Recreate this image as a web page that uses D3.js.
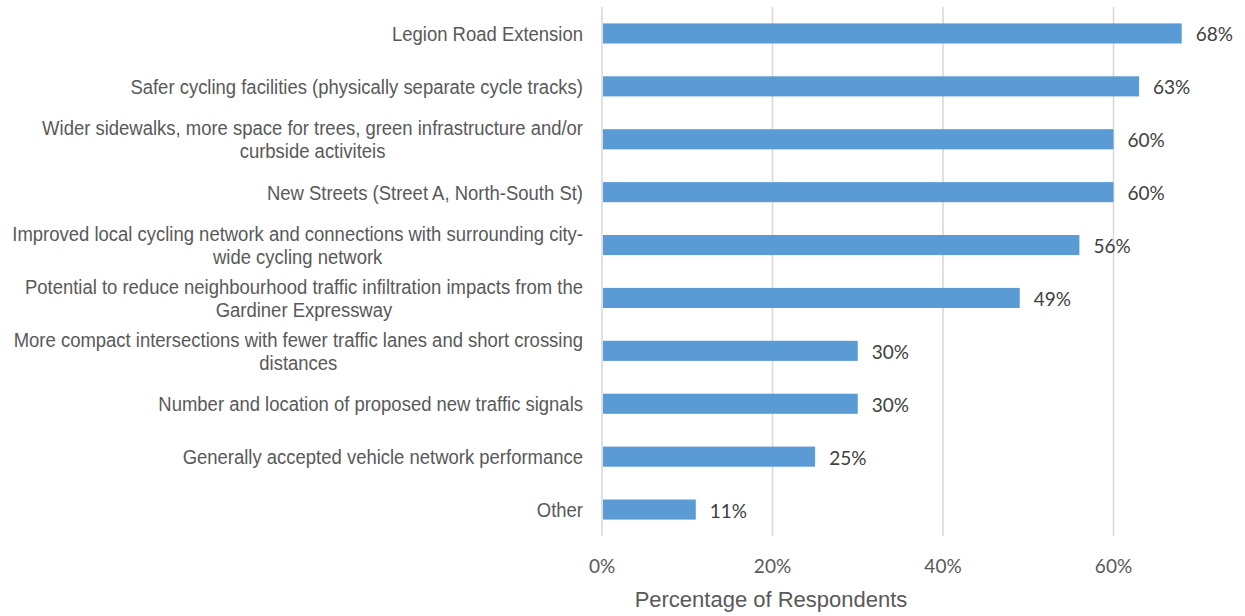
<!DOCTYPE html>
<html>
<head>
<meta charset="utf-8">
<script src="https://cdn.jsdelivr.net/npm/d3@7"></script>
<style>
  body { margin: 0; background: #fff; }
</style>
</head>
<body>
<div id="chart"></div>
<script>
// Survey answers, top to bottom ("\n" marks the line break used in the original)
const categories = [
    "Legion Road Extension",
    "Safer cycling facilities (physically separate cycle tracks)",
    "Wider sidewalks, more space for trees, green infrastructure and/or\ncurbside activiteis",
    "New Streets (Street A, North-South St)",
    "Improved local cycling network and connections with surrounding city-\nwide cycling network",
    "Potential to reduce neighbourhood traffic infiltration impacts from the\nGardiner Expressway",
    "More compact intersections with fewer traffic lanes and short crossing\ndistances",
    "Number and location of proposed new traffic signals",
    "Generally accepted vehicle network performance",
    "Other"
];
const values = [68, 63, 60, 60, 56, 49, 30, 30, 25, 11];
const ticks = [0, 20, 40, 60];
const axisTitle = "Percentage of Respondents";

const W = 1245, H = 616;
const margin = { top: 7, right: 5, bottom: 80, left: 602 };

const svg = d3.select("#chart").append("svg")
    .attr("width", W)
    .attr("height", H);

const x = d3.scaleLinear()
    .domain([0, 60])
    .range([margin.left, 1113.5]);

const y = d3.scaleBand()
    .domain(categories)
    .range([margin.top, H - margin.bottom])
    .paddingInner(0.62)
    .paddingOuter(0.31);

// gridlines
svg.append("g")
    .selectAll("line")
    .data(ticks)
    .join("line")
    .attr("x1", d => x(d))
    .attr("x2", d => x(d))
    .attr("y1", margin.top)
    .attr("y2", H - margin.bottom)
    .attr("stroke", "#d9d9d9")
    .attr("stroke-width", 1.6);

// bars
svg.append("g")
    .selectAll("rect")
    .data(values)
    .join("rect")
    .attr("x", x(0) + 1)
    .attr("y", (d, i) => y(categories[i]))
    .attr("width", d => x(d) - x(0) - 1)
    .attr("height", y.bandwidth())
    .attr("fill", "#5b9bd5");

// value labels
svg.append("g")
    .selectAll("text")
    .data(values)
    .join("text")
    .attr("x", d => x(d) + 14)
    .attr("y", (d, i) => y(categories[i]) + y.bandwidth() / 2 + 8)
    .attr("fill", "#404040")
    .style("font-family", "Lato, 'Open Sans', sans-serif")
    .style("font-size", "19px")
    .text(d => d + "%");

// category labels: narrow Arial look by squeezing Liberation Sans
const labelRight = 583;
const squeeze = 0.88;
const labelG = svg.append("g")
    .attr("transform", `translate(${labelRight},0) scale(${squeeze},1) translate(${-labelRight},0)`);

const labels = labelG.selectAll("text")
    .data(categories)
    .join("text")
    .attr("text-anchor", "middle")
    .attr("fill", "#595959")
    .style("font-family", "'Liberation Sans', Arial, sans-serif")
    .style("font-size", "21px");

labels.each(function(d) {
    const t = d3.select(this);
    const lines = d.split("\n");
    const lh = 23;
    const yc = y(d) + y.bandwidth() / 2;
    const y0 = yc - (lines.length - 1) * lh / 2 + 7.5;
    lines.forEach((ln, i) => {
        t.append("tspan")
            .attr("x", labelRight)
            .attr("y", y0 + i * lh)
            .text(ln);
    });
    let widest = 0;
    t.selectAll("tspan").each(function() {
        widest = Math.max(widest, this.getComputedTextLength());
    });
    t.selectAll("tspan").attr("x", labelRight - widest / 2);
});

// x tick labels
svg.append("g")
    .selectAll("text")
    .data(ticks)
    .join("text")
    .attr("x", d => x(d))
    .attr("y", 573)
    .attr("text-anchor", "middle")
    .attr("fill", "#595959")
    .style("font-family", "Lato, 'Open Sans', sans-serif")
    .style("font-size", "19px")
    .text(d => d + "%");

// axis title
svg.append("text")
    .attr("x", 771)
    .attr("y", 607)
    .attr("text-anchor", "middle")
    .attr("fill", "#595959")
    .style("font-family", "'Liberation Sans', Arial, sans-serif")
    .style("font-size", "22px")
    .text(axisTitle);
</script>
</body>
</html>
